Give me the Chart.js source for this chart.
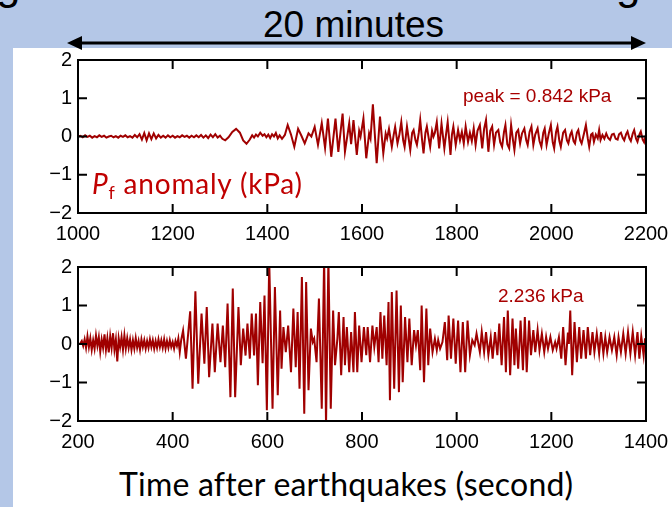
<!DOCTYPE html>
<html><head><meta charset="utf-8">
<script src="https://cdn.jsdelivr.net/npm/chart.js@4.4.1/dist/chart.umd.min.js"></script>
<style>
html,body{margin:0;padding:0;}
body{width:672px;height:507px;background:#b4c7e7;position:relative;overflow:hidden;font-family:"Liberation Sans",Arial,sans-serif;}
#panel{position:absolute;left:13px;top:48px;width:659px;height:459px;background:#fff;}
canvas{position:absolute;left:0;}
#c1{top:50px;}
#c2{top:257px;}
.t{position:absolute;white-space:nowrap;line-height:1;}
#frags{position:absolute;left:0;top:0;width:672px;height:8px;overflow:hidden;}
#frag1{left:-4px;top:-38px;font-size:44px;color:#000;}
#frag2{left:616px;top:-38px;font-size:44px;color:#000;}
#title{left:263px;top:6px;font-size:37px;color:#000;}
#peak1{left:463px;top:85.5px;font-size:19px;color:#a80000;}
#peak2{left:498px;top:285.5px;font-size:19px;color:#a80000;}
#pf{left:92px;top:168.5px;font-family:Lato,"Noto Sans",sans-serif;font-size:28px;letter-spacing:0.8px;color:#c00000;}
#pf sub{font-size:0.64em;vertical-align:-0.28em;line-height:0;}
#xlab{left:119px;top:468px;font-family:Lato,"Noto Sans",sans-serif;font-size:32px;letter-spacing:0.2px;color:#000;}
svg{position:absolute;left:0;top:0;}
</style></head>
<body>
<div id="panel"></div>
<div id="frags"><div class="t" id="frag1">g</div><div class="t" id="frag2">g</div></div>
<div class="t" id="title">20 minutes</div>
<svg width="672" height="60"><line x1="78" y1="43" x2="635" y2="43" stroke="#000" stroke-width="3"/><polygon points="67,43 82,36 82,50" fill="#000"/><polygon points="646,43 631,36 631,50" fill="#000"/></svg>
<canvas id="c1" width="672" height="200"></canvas>
<canvas id="c2" width="672" height="201"></canvas>
<div class="t" id="peak1">peak = 0.842 kPa</div>
<div class="t" id="peak2">2.236 kPa</div>
<div class="t" id="pf"><i>P</i><sub>f</sub> anomaly (kPa)</div>
<div class="t" id="xlab">Time after earthquakes (second)</div>
<script>
// ---- data (seconds after earthquakes, kPa) ----
const topTime = [
1000,1005,1010,1015,1020,1025,1030,1035,1040,1045,
1050,1055,1060,1065,1070,1075,1080,1085,1090,1095,
1100,1105,1110,1115,1120,1125,1130,1135,1140,1145,
1150,1155,1160,1165,1170,1175,1180,1185,1190,1195,
1200,1205,1210,1215,1220,1225,1230,1235,1240,1245,
1250,1255,1260,1265,1270,1275,1280,1285,1290,1295,
1300,1305,1311,1318,1326,1334,1342,1349,1356,1363,
1368,1372,1376,1380,1385,1390,1394,1398,1402,1406,
1410,1414,1418,1422,1426,1431,1437,1443,1450,1457,
1465,1472,1479,1487,1493,1500,1507,1515,1522,1528,
1535,1544,1550,1559,1564,1573,1577,1582,1589,1594,
1597,1603,1609,1615,1618,1623,1631,1638,1645,1650,
1653,1657,1663,1667,1670,1675,1679,1683,1687,1690,
1695,1698,1702,1706,1709,1713,1716,1720,1723,1727,
1730,1734,1737,1741,1744,1748,1751,1754,1758,1763,
1768,1774,1778,1781,1787,1790,1793,1798,1803,1807,
1811,1815,1819,1824,1828,1832,1836,1840,1844,1849,
1854,1858,1862,1867,1871,1875,1879,1883,1888,1892,
1896,1900,1903,1907,1911,1915,1919,1922,1926,1930,
1934,1938,1943,1947,1950,1954,1958,1962,1966,1971,
1975,1979,1983,1986,1990,1995,1999,2003,2006,2010,
2013,2017,2020,2025,2029,2033,2036,2040,2043,2047,
2050,2054,2057,2061,2064,2069,2073,2077,2080,2084,
2087,2090,2094,2098,2101,2104,2108,2112,2116,2120,
2124,2128,2132,2136,2140,2143,2147,2151,2154,2158,
2161,2165,2168,2172,2175,2179,2182,2186,2189,2193,
2196,2200
];
const topKpa = [
0,0.02,-0.02,0.03,-0.01,0.02,-0.03,0.01,-0.02,0.03,
-0.01,0.02,-0.03,0,0.02,-0.02,0.01,-0.03,0.02,-0.01,
0.03,-0.02,0.01,-0.03,0.04,-0.02,0.06,-0.08,0.09,-0.1,
0.08,-0.07,0.08,-0.05,0.04,-0.03,0.02,-0.03,0.03,-0.02,
0.02,-0.03,0.01,-0.02,0.03,-0.01,0.02,-0.03,0.02,-0.02,
0.03,-0.02,0.04,-0.03,0.03,-0.04,0.05,-0.02,0.06,-0.03,
0.02,-0.06,-0.1,-0.02,0.12,0.2,0.1,-0.1,-0.19,-0.08,
0.03,-0.03,0.05,0,0.1,0.02,0.06,-0.02,0.05,-0.04,
0.06,0,0.09,-0.05,0.03,-0.06,0.04,0.3,0.05,-0.27,
0.2,0.02,-0.18,0.08,0,0.25,-0.22,0.35,-0.3,0.47,
-0.53,0.47,-0.4,0.6,-0.4,0.35,-0.2,0.43,-0.48,0.15,
0,0.47,-0.57,0.08,-0.05,0.842,-0.7,0.52,-0.44,0.08,
-0.05,0.2,-0.27,0.05,0.25,-0.18,0.05,0.38,-0.1,-0.27,
0.26,0,-0.35,0.1,0.17,-0.1,-0.22,0.1,0.43,-0.1,
-0.44,0.1,0.26,-0.05,-0.27,0.15,0,0.1,0.38,-0.31,
0.34,-0.31,0.1,0.38,-0.48,0.05,0.26,-0.22,0.17,-0.1,
0.12,-0.18,0.26,-0.14,0.1,-0.12,0.21,-0.22,0.15,0.3,
-0.31,0.2,0.43,-0.4,0.15,0.26,-0.22,0.1,0.17,-0.15,
-0.27,0.12,0.3,-0.2,-0.31,0.3,-0.1,-0.35,0.1,0.17,
-0.18,0.08,0.21,-0.1,-0.22,0.12,0.26,-0.22,0.05,0.21,
-0.12,-0.27,0.1,0.21,-0.22,0.1,0.3,-0.15,-0.31,0.12,
0.26,-0.12,-0.27,0.1,0.17,-0.1,-0.18,0.05,0.13,-0.12,
-0.18,0.1,0.17,-0.1,-0.18,0.08,0.3,-0.05,-0.27,0.05,
0.08,-0.14,0.05,-0.05,0.17,-0.09,0.04,-0.06,0.08,-0.04,
-0.09,0.05,0.07,-0.06,-0.08,0.06,0.1,-0.04,-0.1,0.06,
0.13,-0.05,-0.12,0.08,0.17,-0.06,-0.14,0.05,0.13,-0.08,
-0.15,0.05
];
const bottomTime = [
204,208,211,214,217,220,223,226,229,232,
235,238,241,244,247,250,253,256,259,262,
265,268,271,274,277,280,283,286,289,292,
295,298,301,304,307,310,313,316,319,322,
325,328,331,334,337,340,343,346,349,352,
355,358,361,364,367,370,373,376,379,382,
385,388,391,394,397,400,403,406,409,412,
415,418,422,428,437,442,448,454,461,467,
472,477,484,489,495,501,506,511,516,522,
527,532,539,544,549,554,558,563,567,572,
576,580,585,590,594,599,604,611,616,622,
627,630,634,639,644,650,655,660,664,668,
673,678,682,687,692,696,699,704,709,715,
720,724,729,734,739,743,748,751,756,761,
764,768,773,777,782,785,790,794,799,804,
809,812,817,822,826,831,835,839,843,847,
852,856,859,863,868,873,878,882,886,891,
896,900,905,910,914,918,923,926,931,936,
940,944,949,954,958,961,965,970,975,980,
983,988,993,998,1003,1008,1013,1018,1023,1028,
1033,1038,1042,1049,1053,1058,1062,1067,1072,1076,
1081,1086,1090,1095,1100,1104,1108,1113,1118,1122,
1125,1130,1135,1140,1144,1148,1153,1157,1162,1166,
1171,1175,1180,1185,1189,1193,1198,1203,1208,1211,
1216,1221,1225,1230,1235,1237,1240,1244,1249,1254,
1259,1263,1268,1273,1277,1282,1287,1291,1296,1301,
1305,1310,1314,1318,1323,1328,1333,1338,1342,1347,
1352,1357,1362,1367,1372,1377,1382,1386,1390,1395,
1398,1400
];
const bottomKpa = [
0,0.08,-0.05,0.12,-0.1,0.2,-0.08,0.15,-0.15,0.1,
-0.12,0.22,-0.05,0.18,-0.2,0.12,-0.1,0.25,-0.15,0.15,
-0.22,0.2,-0.1,0.28,-0.15,0.12,-0.45,0.15,-0.08,0.18,
-0.15,0.22,-0.12,0.15,-0.1,0.12,-0.15,0.1,-0.12,0.15,
-0.1,0.08,-0.15,0.12,-0.08,0.1,-0.12,0.08,-0.1,0.12,
-0.08,0.1,-0.12,0.08,-0.1,0.12,-0.08,0.1,-0.1,0.12,
-0.12,0.08,-0.1,0.1,-0.08,0.05,-0.12,0.08,-0.05,0.14,
-0.21,0.1,0.35,-0.38,0.85,-1.16,1.37,-1.03,0.79,-0.51,
0.96,-0.86,0.53,-0.73,0.53,-0.47,0.48,-0.6,1.05,-1.38,
1.44,-1.38,0.96,-0.55,0.4,-0.3,0.53,-0.38,0.79,-0.3,
0.79,-1.07,1.09,-0.5,1.26,-1.72,2.15,-1.68,1.48,-1.33,
0.87,-0.64,0.44,-0.21,0.48,-0.73,0.92,-0.6,0.83,-1.16,
1.74,-1.81,1.61,-1.2,0.4,0.05,0.14,-0.47,1.18,-1.68,
2.236,-2.1,2.2,-1.68,0.87,-0.55,0.14,0.83,-0.81,0.7,
-0.55,0.44,-0.73,0.31,-0.73,0.83,-0.73,0.48,-0.47,0.44,
-0.29,0.44,-0.47,0.48,-0.08,0.44,-0.47,0.83,-0.38,0.74,
-0.55,1.09,-1.46,1.35,-1.16,1.39,-1.25,1.0,-0.99,0.7,
-0.47,0.66,-0.55,0.36,-0.03,0.36,-0.68,1.0,-0.99,0.92,
-0.55,0.4,-0.21,0.14,-0.16,0.1,-0.12,0.05,0.57,-0.42,
0.74,-0.38,0.66,-0.51,0.61,-0.73,0.57,-0.73,0.61,-0.29,
0.1,-0.03,0.27,-0.21,0.31,-0.21,0.31,-0.29,0.18,-0.38,
0.31,-0.29,0.53,-0.55,0.7,-0.73,0.87,-0.81,0.66,-0.55,
0.4,-0.64,0.61,-0.68,0.7,-0.73,0.61,-0.29,0.36,-0.21,
0.36,-0.16,0.27,-0.21,0.18,-0.12,0.18,-0.16,0.05,-0.12,
0.18,-0.38,0.44,-0.55,0.3,0,0.87,-0.81,0.57,-0.47,
0.44,-0.38,0.36,-0.38,0.44,-0.29,0.31,-0.21,0.27,-0.25,
0.31,-0.25,0.18,-0.21,0.18,-0.16,0.18,-0.29,0.18,-0.21,
0.27,-0.25,0.31,-0.25,0.31,-0.29,0.31,-0.38,0.2,-0.3,
0.15,-0.1
];
const topXTicks = [1000,1200,1400,1600,1800,2000,2200];
const bottomXTicks = [200,400,600,800,1000,1200,1400];
const yTicks = [-2,-1,0,1,2];

Chart.defaults.font.family = '"Liberation Sans", Arial, sans-serif';
Chart.defaults.color = '#000';

const framePlugin = {
  id: 'frame',
  afterDraw(chart) {
    const {ctx, chartArea: a, scales: {x, y}} = chart;
    const L = 9;
    ctx.save();
    ctx.strokeStyle = '#000';
    ctx.lineWidth = 2;
    ctx.beginPath();
    x.ticks.forEach(t => {
      if (t.value === x.min || t.value === x.max) return;
      const p = x.getPixelForValue(t.value);
      ctx.moveTo(p, a.top); ctx.lineTo(p, a.top + L);
      ctx.moveTo(p, a.bottom); ctx.lineTo(p, a.bottom - L);
    });
    y.ticks.forEach(t => {
      if (t.value === y.min || t.value === y.max) return;
      const p = y.getPixelForValue(t.value);
      ctx.moveTo(a.left, p); ctx.lineTo(a.left + L, p);
      ctx.moveTo(a.right, p); ctx.lineTo(a.right - L, p);
    });
    ctx.stroke();
    ctx.strokeRect(a.left, a.top, a.right - a.left, a.bottom - a.top);
    ctx.restore();
  }
};

function makeChart(id, times, vals, xTicks) {
  return new Chart(document.getElementById(id), {
    type: 'line',
    data: { datasets: [{
      data: times.map((t, i) => ({x: t, y: vals[i]})),
      borderColor: '#a00000', borderWidth: 2, pointRadius: 0, tension: 0, fill: false
    }]},
    options: {
      responsive: false, animation: false, devicePixelRatio: 1,
      layout: { padding: { left: 0, right: 26, top: 10, bottom: 0 } },
      plugins: { legend: { display: false }, tooltip: { enabled: false } },
      scales: {
        x: {
          type: 'linear', min: xTicks[0], max: xTicks[xTicks.length - 1],
          afterBuildTicks: s => { s.ticks = xTicks.map(v => ({value: v})); },
          afterFit: s => { s.height = 37; s.paddingLeft = 0; s.paddingRight = 0; },
          grid: { display: false, drawTicks: false }, border: { display: false },
          ticks: { padding: 9, maxRotation: 0, autoSkip: false, font: { size: 20 }, color: '#000',
                   callback: v => String(v) }
        },
        y: {
          min: -2, max: 2,
          afterBuildTicks: s => { s.ticks = yTicks.map(v => ({value: v})); },
          afterFit: s => { s.width = 78; s.paddingTop = 0; s.paddingBottom = 0; },
          grid: { display: false, drawTicks: false }, border: { display: false },
          ticks: { padding: 6, autoSkip: false, font: { size: 20 }, color: '#000',
                   callback: v => v < 0 ? '\u2212' + Math.abs(v) : String(v) }
        }
      }
    },
    plugins: [framePlugin]
  });
}
makeChart('c1', topTime, topKpa, topXTicks);
makeChart('c2', bottomTime, bottomKpa, bottomXTicks);
</script>
</body></html>
